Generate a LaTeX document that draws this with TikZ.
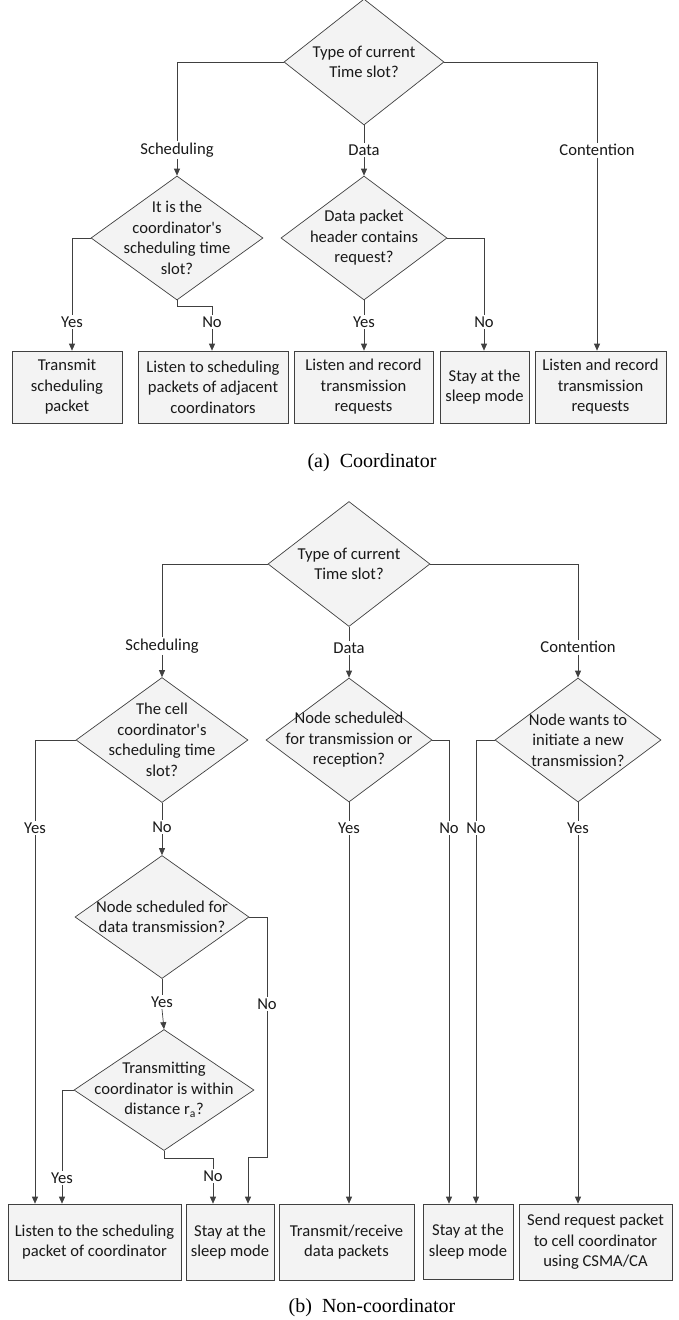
\documentclass[tikz,border=0pt]{standalone}
\usepackage{fontspec}
\setmainfont{Carlito}
\newfontfamily\capfont{Liberation Serif}
\usetikzlibrary{shapes.geometric,arrows.meta}
\definecolor{linegray}{HTML}{404040}
\definecolor{boxfill}{HTML}{F3F3F3}

\begin{document}
\begin{tikzpicture}[
  x=1pt, y=-1pt,
  every node/.style={font=\fontsize{16.6}{20.5}\selectfont, text=black!90},
  dia/.style={diamond, draw=linegray, fill=boxfill, line width=0.7pt, inner sep=0pt},
  dtxt/.style={align=center, inner sep=0pt},
  act/.style={rectangle, draw=linegray, fill=boxfill, line width=0.7pt, align=center, inner sep=2pt},
  lab/.style={fill=white, inner sep=1.5pt},
  con/.style={draw=linegray, line width=0.7pt},
  arr/.style={con, -{Triangle[length=7pt,width=6pt]}},
  captxt/.style={font=\capfont\fontsize{20}{24}\selectfont, text=black}
]
\useasboundingbox (0,0) rectangle (678,1320);

% (a) coordinator
\node[dia, minimum width=160pt, minimum height=126pt] (ta) at (364,62) {};
\node[dtxt] at (ta) {Type of current\\Time slot?};
\node[dia, minimum width=172pt, minimum height=124pt] (sa) at (177,238) {};
\node[dtxt] at (sa) {It is the\\coordinator\textquotesingle s\\scheduling time\\slot?};
\node[dia, minimum width=166pt, minimum height=124pt] (da) at (364,238) {};
\node[dtxt] at (da) {Data packet\\header contains\\request?};

\node[lab] (lsa) at (177,150) {Scheduling};
\node[lab] (lda) at (364,150) {Data};
\node[lab] (lca) at (597,150) {Contention};
\node[lab] (lya1) at (72,322) {Yes};
\node[lab] (lna1) at (212,322) {No};
\node[lab] (lya2) at (364,322) {Yes};
\node[lab] (lna2) at (484,322) {No};

\node[act, minimum width=110pt, minimum height=72pt] (b1a) at (67,387) {Transmit\\scheduling\\packet};
\node[act, minimum width=150pt, minimum height=72pt] (b2a) at (213,387) {Listen to scheduling\\packets of adjacent\\coordinators};
\node[act, minimum width=139pt, minimum height=72pt] (b3a) at (363.5,387) {Listen and record\\transmission\\requests};
\node[act, minimum width=89pt, minimum height=72pt] (b4a) at (484.5,387) {Stay at the\\sleep mode};
\node[act, minimum width=131pt, minimum height=72pt] (b5a) at (600.5,387) {Listen and record\\transmission\\requests};

\draw[con] (ta.west) -| (lsa.north);
\draw[arr] (lsa.south) -- (sa.north);
\draw[con] (ta.south) -- (lda.north);
\draw[arr] (lda.south) -- (da.north);
\draw[con] (ta.east) -| (lca.north);
\draw[arr] (lca.south) -- (lca.south |- b5a.north);
\draw[con] (sa.west) -| (lya1.north);
\draw[arr] (lya1.south) -- (lya1.south |- b1a.north);
\draw[con] (sa.south) -- ++(0,6) -| (lna1.north);
\draw[arr] (lna1.south) -- (lna1.south |- b2a.north);
\draw[con] (da.south) -- (lya2.north);
\draw[arr] (lya2.south) -- (lya2.south |- b3a.north);
\draw[con] (da.east) -| (lna2.north);
\draw[arr] (lna2.south) -- (lna2.south |- b4a.north);

\node[captxt] (capa) at (372,463) {(a)\enspace Coordinator};

% (b) non-coordinator
\node[dia, minimum width=162pt, minimum height=125pt] (tb) at (349,564) {};
\node[dtxt] at (tb) {Type of current\\Time slot?};
\node[dia, minimum width=172pt, minimum height=125pt] (sb) at (162,740) {};
\node[dtxt] at (sb) {The cell\\coordinator\textquotesingle s\\scheduling time\\slot?};
\node[dia, minimum width=166pt, minimum height=124pt] (db) at (349,740) {};
\node[dtxt] at (db) {Node scheduled\\for transmission or\\reception?};
\node[dia, minimum width=166pt, minimum height=124pt] (cb) at (578,740) {};
\node[dtxt] at (cb) {Node wants to\\initiate a new\\transmission?};
\node[dia, minimum width=174pt, minimum height=123pt] (nb) at (162,917) {};
\node[dtxt] at (nb) {Node scheduled for\\data transmission?};
\node[dia, minimum width=180pt, minimum height=121pt] (rb) at (164,1090) {};
\node[dtxt] at (rb) {Transmitting\\coordinator is within\\distance r\textsubscript{a}?};

\node[lab] (lsb) at (162,646) {Scheduling};
\node[lab] (ldb) at (349,648) {Data};
\node[lab] (lcb) at (578,647) {Contention};
\node[lab] (lyb1) at (35,828) {Yes};
\node[lab] (lnb1) at (162,827) {No};
\node[lab] (lyb4) at (349,828) {Yes};
\node[lab] (lnb4) at (449,828) {No};
\node[lab] (lnb5) at (476,828) {No};
\node[lab] (lyb5) at (578,828) {Yes};
\node[lab] (lyb2) at (162,1002) {Yes};
\node[lab] (lnb2) at (267,1004) {No};
\node[lab] (lyb3) at (62,1178) {Yes};
\node[lab] (lnb3) at (213,1176) {No};

\node[act, minimum width=173pt, minimum height=76pt] (b1b) at (94.5,1242) {Listen to the scheduling\\packet of coordinator};
\node[act, minimum width=88pt, minimum height=76pt] (b2b) at (230,1242) {Stay at the\\sleep mode};
\node[act, minimum width=135pt, minimum height=76pt] (b3b) at (346.5,1242) {Transmit/receive\\data packets};
\node[act, minimum width=90pt, minimum height=75pt] (b4b) at (468,1241.5) {Stay at the\\sleep mode};
\node[act, minimum width=153pt, minimum height=76pt] (b5b) at (595.5,1242) {Send request packet\\to cell coordinator\\using CSMA/CA};

\coordinate (kb) at (248,1157);

\draw[con] (tb.west) -| (lsb.north);
\draw[arr] (lsb.south) -- (sb.north);
\draw[con] (tb.south) -- (ldb.north);
\draw[arr] (ldb.south) -- (db.north);
\draw[con] (tb.east) -| (lcb.north);
\draw[arr] (lcb.south) -- (cb.north);
\draw[con] (sb.west) -| (lyb1.north);
\draw[arr] (lyb1.south) -- (lyb1.south |- b1b.north);
\draw[con] (sb.south) -- (lnb1.north);
\draw[arr] (lnb1.south) -- (nb.north);
\draw[con] (nb.south) -- (lyb2.north);
\draw[arr] (lyb2.south) -- (rb.north);
\draw[con] (nb.east) -| (lnb2.north);
\draw[arr] (lnb2.south) |- (kb) -- (kb |- b2b.north);
\draw[con] (rb.west) -| (lyb3.north);
\draw[arr] (lyb3.south) -- (lyb3.south |- b1b.north);
\draw[con] (rb.south) -- ++(0,7) -| (lnb3.north);
\draw[arr] (lnb3.south) -- (lnb3.south |- b2b.north);
\draw[con] (db.south) -- (lyb4.north);
\draw[arr] (lyb4.south) -- (lyb4.south |- b3b.north);
\draw[con] (db.east) -| (lnb4.north);
\draw[arr] (lnb4.south) -- (lnb4.south |- b4b.north);
\draw[con] (cb.west) -| (lnb5.north);
\draw[arr] (lnb5.south) -- (lnb5.south |- b4b.north);
\draw[con] (cb.south) -- (lyb5.north);
\draw[arr] (lyb5.south) -- (lyb5.south |- b5b.north);

\node[captxt] (capb) at (372,1308) {(b)\enspace Non-coordinator};
\end{tikzpicture}
\end{document}
